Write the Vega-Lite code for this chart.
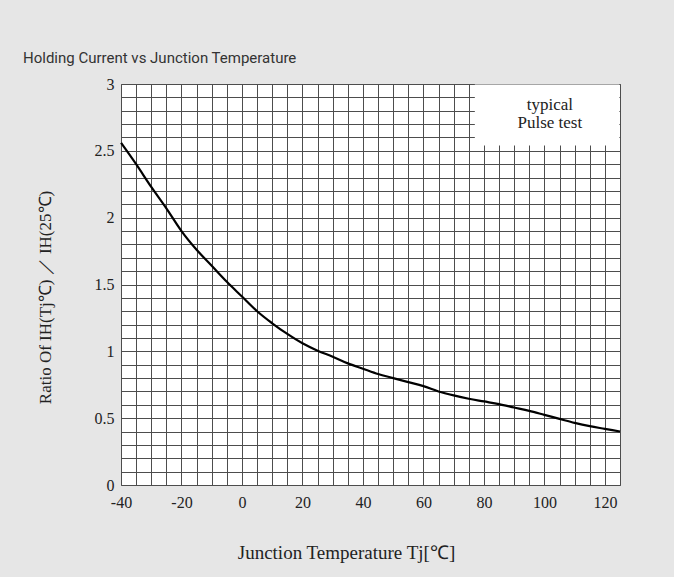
{
  "$schema": "https://vega.github.io/schema/vega-lite/v6.json",
  "width": 499,
  "height": 401,
  "autosize": {"type": "none"},
  "padding": {"left": 121, "top": 84, "right": 54, "bottom": 92},
  "background": "#e6e6e6",
  "title": {
    "text": "Holding Current vs Junction Temperature",
    "anchor": "start",
    "frame": "group",
    "dx": -98,
    "offset": -2,
    "baseline": "alphabetic",
    "font": "Roboto, Liberation Sans, sans-serif",
    "fontSize": 15,
    "fontWeight": "normal",
    "color": "#333"
  },
  "config": {
    "view": {"fill": "white", "stroke": "#666", "strokeWidth": 1},
    "axis": {
      "domain": false,
      "ticks": false,
      "tickSize": 0,
      "tickCount": 100,
      "grid": true,
      "gridColor": "#4d4d4d",
      "gridWidth": 1,
      "gridOpacity": 1,
      "labelOverlap": false,
      "labelFlush": false,
      "labelFont": "Liberation Serif",
      "labelFontSize": 16,
      "labelColor": "#222",
      "titleFont": "Liberation Serif",
      "titleFontSize": 19,
      "titleFontWeight": "normal",
      "titleColor": "#222"
    }
  },
  "layer": [
    {
      "data": {"values": [
        {"t": -40, "r": 2.56}, {"t": -35, "r": 2.40}, {"t": -30, "r": 2.23}, {"t": -25, "r": 2.07},
        {"t": -20, "r": 1.90}, {"t": -15, "r": 1.76}, {"t": -10, "r": 1.64}, {"t": -5, "r": 1.52},
        {"t": 0, "r": 1.41}, {"t": 5, "r": 1.30}, {"t": 10, "r": 1.21}, {"t": 15, "r": 1.13},
        {"t": 20, "r": 1.06}, {"t": 25, "r": 1.005}, {"t": 30, "r": 0.96}, {"t": 35, "r": 0.91},
        {"t": 40, "r": 0.87}, {"t": 45, "r": 0.83}, {"t": 50, "r": 0.80}, {"t": 55, "r": 0.77},
        {"t": 60, "r": 0.74}, {"t": 65, "r": 0.70}, {"t": 70, "r": 0.67}, {"t": 75, "r": 0.645},
        {"t": 80, "r": 0.625}, {"t": 85, "r": 0.605}, {"t": 90, "r": 0.58}, {"t": 95, "r": 0.555},
        {"t": 100, "r": 0.525}, {"t": 105, "r": 0.495}, {"t": 110, "r": 0.465}, {"t": 115, "r": 0.44},
        {"t": 120, "r": 0.42}, {"t": 125, "r": 0.40}
      ]},
      "mark": {"type": "line", "color": "black", "strokeWidth": 2.2, "interpolate": "monotone"},
      "encoding": {
        "x": {
          "field": "t", "type": "quantitative",
          "scale": {"domain": [-40, 125], "nice": false, "zero": false},
          "axis": {
            "title": "Junction Temperature Tj[℃]",
            "values": [-40,-35,-30,-25,-20,-15,-10,-5,0,5,10,15,20,25,30,35,40,45,50,55,60,65,70,75,80,85,90,95,100,105,110,115,120,125],
            "labelExpr": "datum.value % 20 == 0 ? '' + datum.value : ''",
            "labelPadding": 9,
            "titleX": 225,
            "titleY": 73,
            "titleBaseline": "alphabetic",
            "titleAnchor": null
          }
        },
        "y": {
          "field": "r", "type": "quantitative",
          "scale": {"domain": [0, 3], "nice": false},
          "axis": {
            "title": "Ratio Of IH(Tj℃) ／ IH(25℃)",
            "values": [0,0.1,0.2,0.3,0.4,0.5,0.6,0.7,0.8,0.9,1,1.1,1.2,1.3,1.4,1.5,1.6,1.7,1.8,1.9,2,2.1,2.2,2.3,2.4,2.5,2.6,2.7,2.8,2.9,3],
            "labelExpr": "round(datum.value*10) % 5 == 0 ? '' + round(datum.value*10)/10 : ''",
            "labelPadding": 7,
            "titleX": -76,
            "titleY": 213,
            "titleBaseline": "middle",
            "titleFontSize": 17
          }
        }
      }
    },
    {
      "data": {"values": [{"x1": 77, "x2": 124.8, "y1": 2.54, "y2": 2.996}]},
      "mark": {"type": "rect", "fill": "white"},
      "encoding": {
        "x": {"field": "x1", "type": "quantitative"},
        "x2": {"field": "x2"},
        "y": {"field": "y1", "type": "quantitative"},
        "y2": {"field": "y2"}
      }
    },
    {
      "data": {"values": [{"label": "typical", "x": 101.8, "y": 2.84}, {"label": "Pulse test", "x": 101.8, "y": 2.705}]},
      "mark": {"type": "text", "font": "Liberation Serif", "fontSize": 17, "color": "#222", "baseline": "middle", "align": "center"},
      "encoding": {
        "x": {"field": "x", "type": "quantitative"},
        "y": {"field": "y", "type": "quantitative"},
        "text": {"field": "label"}
      }
    }
  ]
}
